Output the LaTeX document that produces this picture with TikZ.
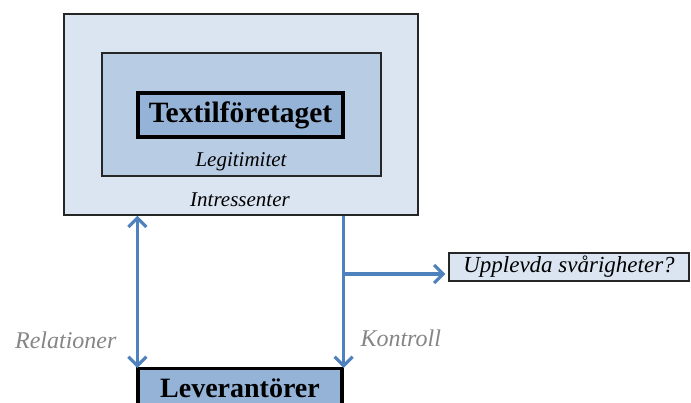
\documentclass[tikz,border=0pt]{standalone}
\usepackage{fontspec}
\setmainfont{Liberation Serif}
\usepackage{xcolor}
\usepackage{tikz}
\usetikzlibrary{arrows.meta}
\definecolor{boxlight}{HTML}{DBE5F1}
\definecolor{boxmid}{HTML}{B8CCE4}
\definecolor{boxdark}{HTML}{95B3D7}
\definecolor{flowblue}{HTML}{4F81BD}
\definecolor{labelgray}{HTML}{858585}
\tikzstyle{box} = [draw=black!85,line width=1.4pt,inner sep=0pt]
\tikzstyle{thickbox} = [draw=black,line width=3.2pt,inner sep=0pt,fill=boxdark]
\tikzstyle{flow} = [flowblue,line width=3.2pt,arrows={-Straight Barb[length=9pt,width=18pt]}]
\tikzstyle{flowlabel} = [labelgray,font=\itshape\fontsize{24}{26}\selectfont]

\begin{document}
\begin{tikzpicture}[x=1pt,y=-1pt]
	\useasboundingbox (0,0) rectangle (691,403);
	
	% Nested boxes:
	% The three boxes share the same centre, the labels sit at the bottom of each one
	\node [box,fill=boxlight,minimum width=354pt,minimum height=201pt] (intressenter) at (241,114.5) {};
	\node [box,fill=boxmid,minimum width=279pt,minimum height=123pt] (legitimitet) at (241.5,114.5) {};
	\node [thickbox,minimum width=205pt,minimum height=44pt] (textil) at (240.5,115)
		{\bfseries\fontsize{29.5}{31}\selectfont Textilföretaget};
	\node [font=\itshape\fontsize{21}{23}\selectfont] (legtext) at (241,162) {Legitimitet};
	\node [font=\itshape\fontsize{21}{23}\selectfont] (inttext) at (240,200) {Intressenter};
	
	% Suppliers below, cut off by the bottom edge
	\node [thickbox,anchor=north,minimum width=204pt,minimum height=40pt] (leverantorer) at (240,367)
		{\bfseries\fontsize{28}{30}\selectfont Leverantörer};
	
	% Question box on the right
	\node [box,fill=boxlight,minimum width=240pt,minimum height=28pt] (upplevda) at (569,267)
		{\itshape\fontsize{23}{25}\selectfont Upplevda svårigheter?};
	
	% Arrows:
	% Relations go both ways, control only downwards
	\draw [flow,{Straight Barb[length=9pt,width=18pt]}-{Straight Barb[length=9pt,width=18pt]}]
		([xshift=1pt]leverantorer.north west |- intressenter.south) -- ([xshift=1pt,yshift=-1pt]leverantorer.north west);
	\draw [flow] (leverantorer.north east |- intressenter.south) -- ([yshift=-1pt]leverantorer.north east);
	
	\coordinate (split) at (342,274);
	\draw [flow,shorten >=3pt] (split) -- (split -| upplevda.west);
	
	% Labels next to the arrows
	\node [flowlabel,anchor=east] (relationer) at (120,340) {Relationer};
	\node [flowlabel,anchor=west] (kontroll) at (357,338) {Kontroll};
	
\end{tikzpicture}
\end{document}
